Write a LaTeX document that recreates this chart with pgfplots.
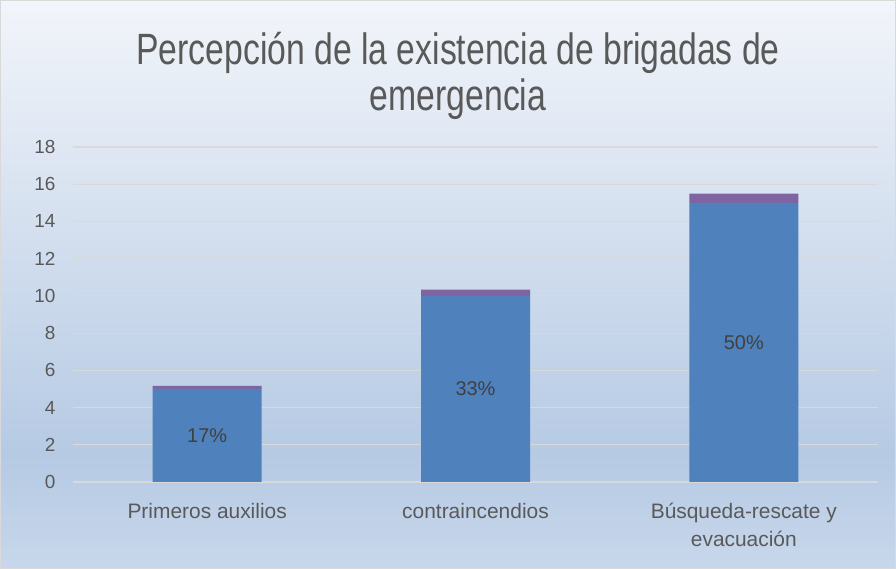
\documentclass[border=0pt]{standalone}
\usepackage{pgfplots}
\pgfplotsset{compat=1.18}
\usepackage{fontspec}
\setmainfont{Liberation Sans}
\newfontfamily\condfont[FakeStretch=0.77]{Liberation Sans}
\definecolor{barblue}{HTML}{4F81BD}
\definecolor{barpurple}{HTML}{8064A2}
\definecolor{txtgray}{HTML}{595959}
\definecolor{lbltxt}{HTML}{404040}
\definecolor{gridc}{HTML}{D9D9D9}
\definecolor{bgA}{HTML}{F2F5FA}
\definecolor{bgB}{HTML}{B6CAE4}
\definecolor{bgC}{HTML}{C8D7EB}
% background gradient, path maps onto 25bp..75bp
\pgfdeclareverticalshading{bgshade}{100bp}{color(0bp)=(bgC); color(25bp)=(bgC);
  color(35bp)=(bgB); color(75bp)=(bgA); color(100bp)=(bgA)}
\begin{document}
\begin{tikzpicture}
\fill[shading=bgshade] (0,0) rectangle (896bp,569bp);
\draw[gridc,line width=1bp] (0.5bp,0.5bp) rectangle (895.5bp,568.5bp);
\node[text=txtgray,align=center,font=\condfont\fontsize{44}{46}\selectfont]
  at (458bp,493bp) {Percepción de la existencia de brigadas de\\emergencia};
\begin{axis}[
 at={(73bp,87bp)},anchor=south west,
 scale only axis,width=805bp,height=335bp,
 ybar stacked,bar width=109bp,
 xmin=-0.5,xmax=2.5,ymin=0,ymax=18,ytick={0,2,...,18},
 xtick={0,1,2},
 xticklabels={Primeros auxilios,contraincendios,{Búsqueda-rescate y\\evacuación}},
 axis line style={draw=none},major tick length=0pt,
 ymajorgrids,major grid style={draw=gridc,line width=1.2bp},
 xticklabel style={align=center,text=txtgray,yshift=-18bp,
   font=\fontsize{21}{28}\selectfont},
 yticklabel style={text=txtgray,xshift=-14bp,font=\fontsize{19}{24}\selectfont},
 /pgf/number format/assume math mode=true,
]
\addplot[fill=barblue,draw=none,nodes near coords,point meta=explicit symbolic,
 every node near coord/.append style={anchor=center,
   text=lbltxt,font=\fontsize{20}{24}\selectfont}]
 coordinates {(0,5) [17\%] (1,10) [33\%] (2,15) [50\%]};
\addplot[fill=barpurple,draw=none] coordinates {(0,0.17) (1,0.33) (2,0.5)};
\end{axis}
\end{tikzpicture}
\end{document}
